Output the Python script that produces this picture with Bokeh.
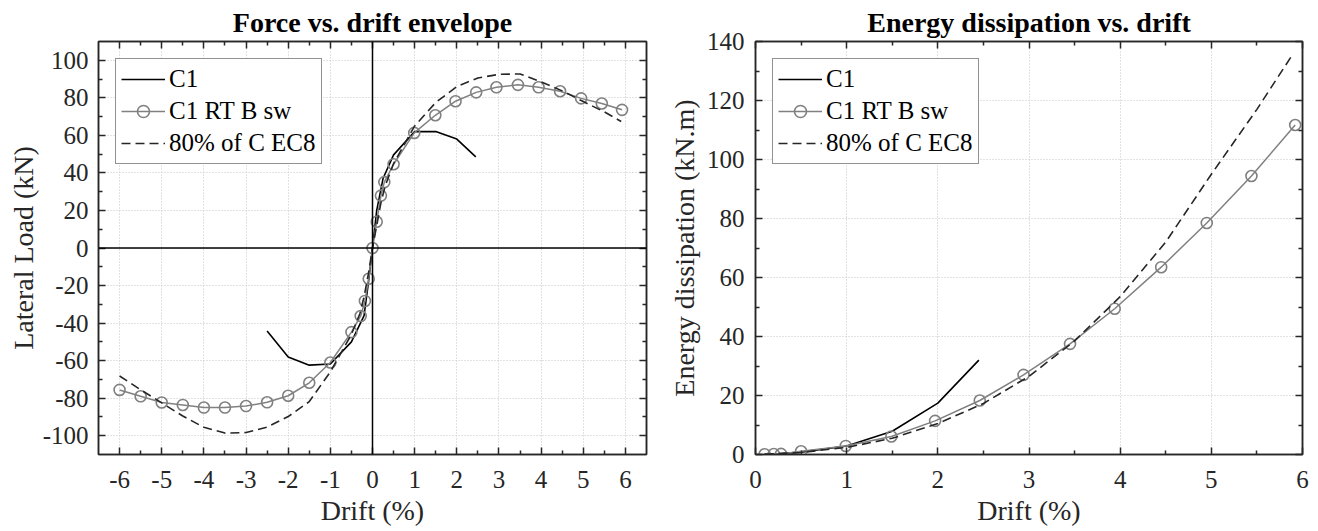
from bokeh.plotting import figure
from bokeh.layouts import row
from bokeh.models import (Span, LinearAxis, FixedTicker, CustomJSTickFormatter, Range1d)
from bokeh.embed import file_html
from bokeh.resources import INLINE

FONT = "Liberation Serif"
AX = "#262626"

# ---------------- data: force vs drift ----------------
c1_drift = [-2.5, -2.0, -1.5, -1.0, -0.5, -0.2, -0.1, 0.0, 0.1, 0.25, 0.5, 1.0, 1.5, 2.0, 2.45]
c1_load = [-44.2, -58.0, -62.4, -61.8, -50.0, -36.0, -19.0, 0.0, 20.0, 37.0, 49.6, 62.0, 62.0, 58.0, 48.5]

rt_drift = [-6.0, -5.5, -5.0, -4.5, -4.0, -3.5, -3.0, -2.5, -2.0, -1.5, -1.0, -0.5, -0.28, -0.18, -0.09, 0.0,
            0.1, 0.2, 0.28, 0.5, 0.99, 1.49, 1.97, 2.46, 2.94, 3.45, 3.94, 4.45, 4.95, 5.44, 5.92]
rt_load = [-75.6, -79.0, -82.3, -83.6, -85.0, -85.0, -84.2, -82.2, -78.7, -71.8, -61.0, -44.8, -36.2, -28.2, -16.4, 0.0,
           14.0, 27.9, 35.1, 44.6, 61.3, 70.7, 78.2, 82.9, 85.6, 86.9, 85.6, 83.5, 79.7, 77.0, 73.6]

ec8_drift = [-6.0, -5.5, -5.0, -4.5, -4.0, -3.5, -3.0, -2.5, -2.0, -1.5, -1.0, -0.5, -0.3, -0.2, -0.1, 0.0,
             0.1, 0.2, 0.3, 0.5, 1.0, 1.5, 2.0, 2.5, 3.0, 3.5, 4.0, 4.5, 5.0, 5.5, 5.9]
ec8_load = [-68.2, -75.5, -82.5, -89.5, -95.5, -98.6, -98.3, -95.4, -89.8, -81.8, -66.0, -46.0, -35.0, -26.0, -14.0, 0.0,
            12.0, 24.0, 33.0, 45.0, 65.0, 77.5, 86.0, 90.6, 92.5, 92.7, 88.5, 83.7, 78.0, 72.5, 67.4]

# ---------------- data: energy vs drift ----------------
c1_e_drift = [0.1, 0.25, 0.5, 1.0, 1.5, 2.0, 2.45]
c1_energy = [0.05, 0.2, 0.8, 2.9, 7.9, 17.4, 32.0]

rt_e_drift = [0.1, 0.2, 0.28, 0.5, 0.99, 1.49, 1.97, 2.46, 2.94, 3.45, 3.94, 4.45, 4.95, 5.44, 5.92]
rt_energy = [0.1, 0.15, 0.2, 1.1, 2.9, 6.1, 11.4, 18.3, 27.0, 37.5, 49.4, 63.5, 78.5, 94.4, 111.7]

ec8_e_drift = [0.1, 0.5, 1.0, 1.5, 2.0, 2.5, 3.0, 3.5, 4.0, 4.5, 5.0, 5.5, 5.9]
ec8_energy = [0.05, 0.7, 2.4, 5.5, 10.5, 17.3, 26.5, 38.5, 53.5, 72.0, 95.0, 117.0, 136.0]

left_xticks = [-6, -5, -4, -3, -2, -1, 0, 1, 2, 3, 4, 5, 6]
left_yticks = [-100, -80, -60, -40, -20, 0, 20, 40, 60, 80, 100]
right_xticks = [0, 1, 2, 3, 4, 5, 6]
right_yticks = [0, 20, 40, 60, 80, 100, 120, 140]


def minors(ticks, step):
    out = []
    for i in range(len(ticks) - 1):
        a = ticks[i]
        b = ticks[i + 1]
        n = int(round((b - a) / step))
        for k in range(1, n):
            out.append(a + k * step)
    return out


def style(p, xt, yt, xminor, yminor, ytick_standoff, ylabel_standoff):
    p.title.text_font = FONT
    p.title.text_font_size = "28px"
    p.title.text_font_style = "bold"
    p.title.text_color = "black"
    p.title.align = "center"
    p.title.standoff = 8
    p.outline_line_color = AX
    p.outline_line_width = 1.5
    p.background_fill_color = "white"
    p.border_fill_color = "white"
    p.xaxis.ticker = FixedTicker(ticks=xt, minor_ticks=minors(xt, xminor))
    p.yaxis.ticker = FixedTicker(ticks=yt, minor_ticks=minors(yt, yminor))
    for ax in (p.xaxis[0], p.yaxis[0]):
        ax.formatter = CustomJSTickFormatter(code="return tick.toString()")
        ax.axis_line_color = AX
        ax.axis_line_width = 1.5
        ax.major_tick_line_color = AX
        ax.minor_tick_line_color = AX
        ax.major_tick_line_width = 1.5
        ax.minor_tick_line_width = 1.5
        ax.major_tick_in = 7
        ax.major_tick_out = 0
        ax.minor_tick_in = 4
        ax.minor_tick_out = 0
        ax.major_label_text_font = FONT
        ax.major_label_text_font_size = "25px"
        ax.major_label_text_color = AX
        ax.axis_label_text_font = FONT
        ax.axis_label_text_font_size = "28px"
        ax.axis_label_text_font_style = "normal"
        ax.axis_label_text_color = AX
    p.xaxis.major_label_standoff = 16
    p.xaxis.axis_label_standoff = 4
    p.yaxis.major_label_standoff = ytick_standoff
    p.yaxis.axis_label_standoff = ylabel_standoff
    p.xgrid.ticker = FixedTicker(ticks=xt)
    p.ygrid.ticker = FixedTicker(ticks=yt)
    for g in (p.xgrid[0], p.ygrid[0]):
        g.grid_line_color = "#c4c4c4"
        g.grid_line_dash = "1 2"
        g.grid_line_width = 1
    # box axes on top and right, ticks only
    for loc, t, mt in (("above", xt, minors(xt, xminor)), ("right", yt, minors(yt, yminor))):
        a = LinearAxis(ticker=FixedTicker(ticks=t, minor_ticks=mt),
                       formatter=CustomJSTickFormatter(code="return ''"),
                       axis_line_color=AX, axis_line_width=1.5,
                       major_tick_line_color=AX, minor_tick_line_color=AX,
                       major_tick_line_width=1.5, minor_tick_line_width=1.5,
                       major_tick_in=7, major_tick_out=0, minor_tick_in=4, minor_tick_out=0,
                       major_label_standoff=0, major_label_text_font_size="1px")
        p.add_layout(a, loc)


def style_legend(p):
    lg = p.legend[0]
    lg.location = "top_left"
    lg.margin = 17
    lg.padding = 5
    lg.spacing = 2
    lg.label_height = 30
    lg.glyph_height = 30
    lg.glyph_width = 44
    lg.label_standoff = 4
    lg.label_text_font = FONT
    lg.label_text_font_size = "25px"
    lg.label_text_color = "black"
    lg.border_line_color = AX
    lg.border_line_width = 1.5
    lg.background_fill_color = "white"
    lg.background_fill_alpha = 1.0


GRAY = "#808080"
DASH = "#262626"

# ---------------- left figure ----------------
p1 = figure(frame_width=548, frame_height=413, output_backend="svg", toolbar_location=None,
            title="Force vs. drift envelope",
            x_range=Range1d(-6.5, 6.5), y_range=Range1d(-110, 110),
            min_border_left=98, min_border_right=19, min_border_top=41, min_border_bottom=76)
p1.xaxis.axis_label = "Drift (%)"
p1.yaxis.axis_label = "Lateral Load (kN)"
style(p1, left_xticks, left_yticks, 0.5, 10, 10, 1)

p1.add_layout(Span(location=0, dimension="height", line_color="black", line_width=1.5))
p1.add_layout(Span(location=0, dimension="width", line_color="black", line_width=1.5))

p1.line(c1_drift, c1_load, line_color="black", line_width=1.6, legend_label="C1")
p1.line(rt_drift, rt_load, line_color=GRAY, line_width=1.5, legend_label="C1 RT B sw")
p1.scatter(rt_drift, rt_load, marker="circle", size=11, line_color=GRAY, line_width=1.6,
           fill_color=None, legend_label="C1 RT B sw")
p1.line(ec8_drift, ec8_load, line_color=DASH, line_width=1.6, line_dash="9 5", legend_label="80% of C EC8")
style_legend(p1)

# ---------------- right figure ----------------
p2 = figure(frame_width=547, frame_height=413, output_backend="svg", toolbar_location=None,
            title="Energy dissipation vs. drift",
            x_range=Range1d(0, 6), y_range=Range1d(0, 140),
            min_border_left=85, min_border_right=10, min_border_top=41, min_border_bottom=76)
p2.xaxis.axis_label = "Drift (%)"
p2.yaxis.axis_label = "Energy dissipation (kN.m)"
style(p2, right_xticks, right_yticks, 0.5, 10, 11, 4)

p2.line(c1_e_drift, c1_energy, line_color="black", line_width=1.6, legend_label="C1")
p2.line(rt_e_drift, rt_energy, line_color=GRAY, line_width=1.5, legend_label="C1 RT B sw")
p2.scatter(rt_e_drift, rt_energy, marker="circle", size=11, line_color=GRAY, line_width=1.6,
           fill_color=None, legend_label="C1 RT B sw")
p2.line(ec8_e_drift, ec8_energy, line_color=DASH, line_width=1.6, line_dash="9 5", legend_label="80% of C EC8")
style_legend(p2)

layout = row(p1, p2)
open("out.html", "w").write(file_html(layout, INLINE))
